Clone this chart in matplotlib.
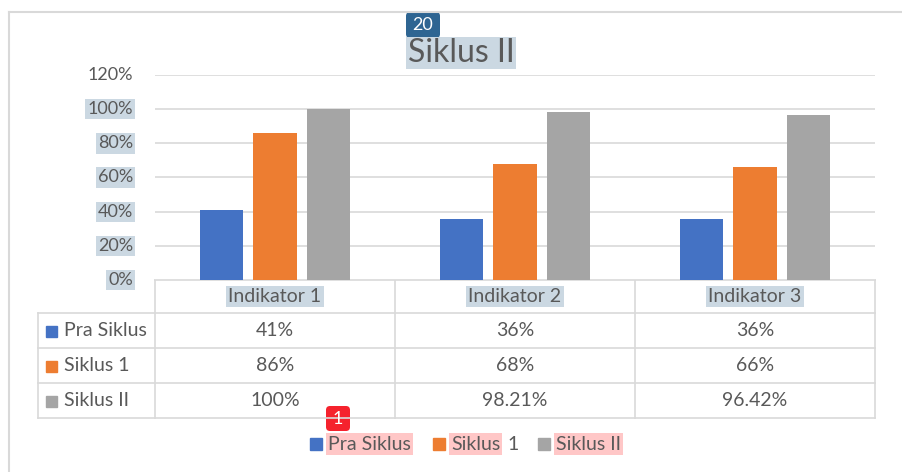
import numpy as np
import matplotlib.pyplot as plt
from matplotlib.patches import Rectangle, FancyBboxPatch

plt.rcParams['font.family'] = ['Lato', 'DejaVu Sans']

categories = ['Indikator 1', 'Indikator 2', 'Indikator 3']
series = ['Pra Siklus', 'Siklus 1', 'Siklus II']
pra_siklus = [41, 36, 36]
siklus_1 = [86, 68, 66]
siklus_2 = [100, 98.21, 96.42]
cell_text = [['41%', '36%', '36%'],
             ['86%', '68%', '66%'],
             ['100%', '98.21%', '96.42%']]
yticks = [0, 20, 40, 60, 80, 100, 120]

colors = ['#4472C4', '#ED7D31', '#A5A5A5']
txt = '#595959'
hl = '#CBD8E2'
W, H = 902, 472
fs = 14

fig = plt.figure(figsize=(W / 100, H / 100), dpi=100)

# overlay in pixel coordinates for frame, table, legend
ov = fig.add_axes([0, 0, 1, 1])
ov.set_xlim(0, W)
ov.set_ylim(H, 0)
ov.axis('off')

# chart frame
ov.plot([9, W], [12, 12], color='#D9D9D9', lw=1.5)
ov.plot([9, 9], [12, H], color='#D9D9D9', lw=1.5)

# bar axes
x0, x1, ytop, ybot = 155, 875, 75, 280
ax = fig.add_axes([x0 / W, 1 - ybot / H, (x1 - x0) / W, (ybot - ytop) / H])
x = np.arange(len(categories))
bw, off = 0.18, 0.222
for i, vals in enumerate([pra_siklus, siklus_1, siklus_2]):
    ax.bar(x + (i - 1) * off, vals, width=bw, color=colors[i], zorder=3)
ax.set_xlim(-0.5, 2.5)
ax.set_ylim(0, 120)
ax.set_yticks(yticks)
ax.set_yticklabels([])
ax.set_xticks([])
ax.grid(axis='y', color='#D9D9D9', lw=1.2, zorder=0)
ax.tick_params(length=0)
for s in ax.spines.values():
    s.set_visible(False)

# y tick labels (highlighted except the top one)
for v in yticks:
    py = ybot - (ybot - ytop) * v / 120
    kw = dict(facecolor=hl, edgecolor='none', pad=1.5) if v < 120 else None
    ov.text(133, py, f'{v}%', ha='right', va='center', fontsize=13,
            color=txt, bbox=kw)

# title
ov.text(461, 53, 'Siklus II', ha='center', va='center', fontsize=23,
        color=txt, bbox=dict(facecolor=hl, edgecolor='none', pad=1))

# data table
rows = [280, 313, 348, 383, 418]
cols = [155, 395, 635, 875]
lc = '#D9D9D9'
ov.plot([cols[0], cols[-1]], [rows[0], rows[0]], color=lc, lw=1.2)
for r in rows[1:]:
    ov.plot([38, cols[-1]], [r, r], color=lc, lw=1.2)
ov.plot([38, 38], [rows[1], rows[-1]], color=lc, lw=1.2)
for c in cols:
    ov.plot([c, c], [rows[0], rows[-1]], color=lc, lw=1.2)

for j, cat in enumerate(categories):
    cx = (cols[j] + cols[j + 1]) / 2
    ov.text(cx, (rows[0] + rows[1]) / 2, cat, ha='center', va='center',
            fontsize=fs, color=txt,
            bbox=dict(facecolor=hl, edgecolor='none', pad=1.5))
for i, name in enumerate(series):
    cy = (rows[i + 1] + rows[i + 2]) / 2
    ov.add_patch(Rectangle((46, cy - 5), 11, 11, color=colors[i]))
    ov.text(64, cy, name, ha='left', va='center', fontsize=fs, color=txt)
    for j in range(len(categories)):
        cx = (cols[j] + cols[j + 1]) / 2
        ov.text(cx, cy, cell_text[i][j], ha='center', va='center',
                fontsize=fs, color=txt)

# legend at the bottom
leg_x = [310, 433, 538]
pink = '#FFC7C7'
ly = 444
for i, name in enumerate(series):
    ov.add_patch(Rectangle((leg_x[i], ly - 6), 12, 12, color=colors[i]))
    if name == 'Siklus 1':
        ov.text(leg_x[i] + 18, ly, 'Siklus', ha='left', va='center',
                fontsize=fs, color=txt,
                bbox=dict(facecolor=pink, edgecolor='none', pad=1.5))
        ov.text(507, ly, '1', ha='left', va='center', fontsize=fs, color=txt)
    else:
        ov.text(leg_x[i] + 18, ly, name, ha='left', va='center',
                fontsize=fs, color=txt,
                bbox=dict(facecolor=pink, edgecolor='none', pad=1.5))

# badges
ov.add_patch(FancyBboxPatch((406, 12), 34, 26, boxstyle='round,pad=0,rounding_size=4',
                            facecolor='#2E6592', edgecolor='none'))
ov.text(423, 25.5, '20', ha='center', va='center', fontsize=13, color='white')
ov.add_patch(FancyBboxPatch((326, 406), 24, 25, boxstyle='round,pad=0,rounding_size=4',
                            facecolor='#F5222D', edgecolor='none'))
ov.text(338, 419, '1', ha='center', va='center', fontsize=13, color='white')

fig.savefig('out.png', dpi=100)
